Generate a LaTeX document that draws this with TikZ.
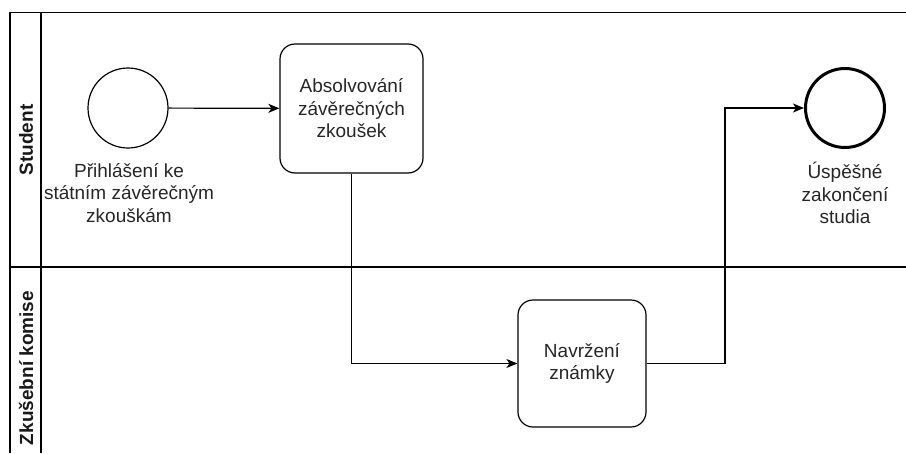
\documentclass[tikz,border=0pt]{standalone}
\usepackage{fontspec}
\setmainfont{Liberation Sans}
\usetikzlibrary{arrows.meta}
\begin{document}
\begin{tikzpicture}[x=1pt,y=1pt,
  lane/.style={line width=1.2pt, draw=black},
  lanelabel/.style={rotate=90, font=\fontsize{19}{22.5}\selectfont\bfseries, text=black!90},
  txt/.style={font=\fontsize{19}{22.5}\selectfont, text=black!85, align=center},
  startev/.style={circle, draw=black, line width=1.2pt, minimum size=80pt, inner sep=0pt},
  endev/.style={circle, draw=black, line width=3pt, minimum size=79pt, inner sep=0pt},
  task/.style={rectangle, rounded corners=15pt, draw=black, line width=1.2pt, txt, inner sep=0pt},
  flow/.style={line width=1.2pt, draw=black, -{Stealth[length=11pt,width=9pt,inset=3pt]}}
]
\useasboundingbox (0,0) rectangle (906,-453);
% pool and lanes
\draw[lane] (906,-12.5) -- (10,-12.5) -- (10,-453);
\draw[lane] (41,-12.5) -- (41,-453);
\draw[lane] (10,-267) -- (906,-267);
\node[lanelabel] (laneA) at (26,-140) {Student};
\node[lanelabel] (laneB) at (26,-368) {Zkušební komise};
% events
\node[startev] (start) at (128,-108) {};
\node[txt] (startlbl) at (129,-193) {Přihlášení ke\\státním závěrečným\\zkouškám};
\node[endev] (end) at (845,-108) {};
\node[txt] (endlbl) at (845,-193) {Úspěšné\\zakončení\\studia};
% tasks
\node[task, minimum width=143pt, minimum height=129pt] (t1) at (351.5,-108.5) {Absolvování\\závěrečných\\zkoušek};
\node[task, minimum width=128pt, minimum height=127pt] (t2) at (582,-363.5) {Navržení\\známky};
% flows
\coordinate (bend) at (725,-363.5);
\draw[flow] (start) -- (t1);
\draw[flow] (t1.south) |- (t2.west);
\draw[flow] (t2.east) -- (bend) |- (end.west);
\end{tikzpicture}
\end{document}
